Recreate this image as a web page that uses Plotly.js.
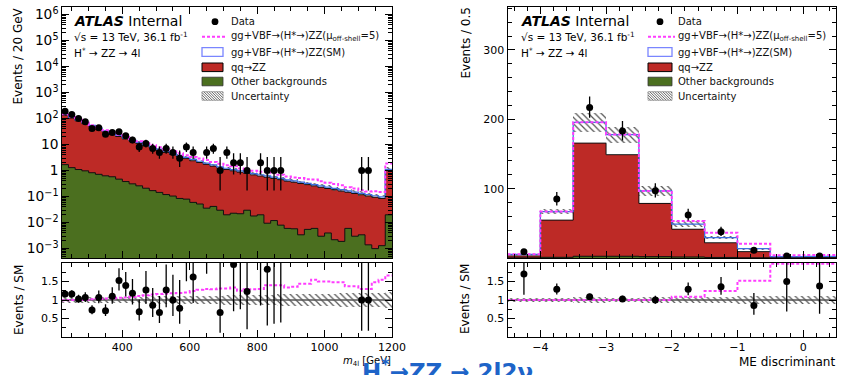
<!DOCTYPE html>
<html><head><meta charset="utf-8">
<script src="https://cdn.plot.ly/plotly-3.0.1.min.js"></script>
<style>html,body{margin:0;padding:0;background:#fff;}#chart{width:841px;height:375px;}</style>
</head><body><div id="chart"></div>
<script>
// ================= DATA =================
// Left panel: m4l distribution, 20 GeV bins from 220 to 1200 GeV
const m4lStart = 220, m4lWidth = 20;
const m4lData = [190,145,100,75,42,44,25,29,31,22,
  15,8,11,7,5,7,5,3,8,5,
  0,5,7,1,5,2,2,1,0,2,
  1,1,1,0,0,0,0,0,0,0,
  0,0,0,0,1,1,0,0,0];
const m4lDataRatio = [1.16,1.16,1.03,1.07,0.73,1.07,0.71,1.10,1.53,1.39,
  1.18,0.68,1.27,0.86,0.66,1.27,1.00,0.78,2.30,1.62,
  null,3.00,3.50,0.66,3.80,1.96,2.10,1.23,null,2.40,
  1.83,2.10,2.30,null,null,null,null,null,null,null,
  null,null,null,null,1.00,1.00,null,null,null];
const m4lOther = [1.7,1.3,1.1,0.98,0.83,0.72,0.63,0.58,0.47,0.38,
  0.31,0.26,0.21,0.17,0.145,0.12,0.105,0.085,0.08,0.06,
  0.052,0.036,0.042,0.03,0.02,0.023,0.022,0.03,0.018,0.02,
  0.0095,0.012,0.008,0.006,0.0058,0.0034,0.0055,0.006,0.003,0.004,
  0.0022,0.0019,0.006,0.003,0.0034,0.0014,0.001,0.0013,0.02];
const m4lQQZZ = [133,104,81,63,49.2,38.3,30.4,24.4,20.0,16.1,
  13.2,10.7,8.8,7.2,5.95,4.88,4.1,3.42,2.82,2.34,
  2.0,1.71,1.44,1.22,1.08,0.96,0.85,0.75,0.67,0.60,
  0.55,0.49,0.44,0.39,0.354,0.317,0.284,0.254,0.227,0.201,
  0.183,0.163,0.142,0.129,0.115,0.105,0.094,0.084,0.98];
const m4lGGSM = [12,9.5,7.5,6,4.8,3.8,3.1,2.5,2.1,1.7,
  1.4,1.15,0.95,0.8,0.66,0.55,0.47,0.39,0.33,0.28,
  0.24,0.205,0.175,0.15,0.13,0.115,0.102,0.09,0.08,0.072,
  0.065,0.058,0.052,0.047,0.042,0.038,0.034,0.031,0.028,0.025,
  0.023,0.021,0.019,0.017,0.016,0.014,0.013,0.012,0.12];
const m4lMu5Ratio = [0.99,1.0,1.0,1.01,1.02,1.03,1.04,1.05,1.06,1.07,
  1.09,1.11,1.13,1.15,1.16,1.17,1.18,1.19,1.20,1.24,
  1.28,1.30,1.29,1.31,1.31,1.34,1.25,1.29,1.29,1.30,
  1.40,1.40,1.40,1.34,1.36,1.44,1.44,1.55,1.50,1.50,
  1.48,1.48,1.37,1.37,1.30,1.30,1.48,1.55,1.66];
const m4lUnc = [0.07,0.07,0.07,0.07,0.075,0.075,0.08,0.08,0.08,0.085,
  0.09,0.09,0.09,0.095,0.10,0.10,0.10,0.105,0.11,0.11,
  0.11,0.115,0.12,0.12,0.125,0.13,0.13,0.13,0.135,0.14,
  0.14,0.145,0.15,0.15,0.155,0.16,0.16,0.165,0.17,0.17,
  0.175,0.18,0.18,0.185,0.19,0.19,0.195,0.20,0.21];
const m4lTicks = [400,600,800,1000,1200];

// Right panel: ME discriminant, 0.5 bins from -4.5 to 0.5
const meStart = -4.5, meWidth = 0.5;
const meData = [9,85,217,183,97,62,38,11,3,3];
const meDataRatio = [1.70,1.29,1.09,1.03,1.00,1.29,1.36,0.85,1.50,1.38];
const meOther = [0.3,1,2.5,2.5,2,1.5,0.8,0.4,0.1,0.1];
const meQQZZ = [2.7,53.6,163.2,146.5,76.7,40,21.2,8.8,0.9,0.9];
const meGGSM = [2.3,12.4,30,29,18,7.3,7.4,4.3,1.0,1.2];
const meMu5Ratio = [1,1,1,1,1,1.09,1.24,1.52,1.98,1.98];
const meUnc = [0.06,0.06,0.07,0.065,0.07,0.08,0.09,0.10,0.11,0.12];
const meTicks = [-4,-3,-2,-1,0];
const meYTicks = [100,200,300];
const ratioTicks = [0.5,1,1.5];

const legendLabels = ['Data','gg+VBF→(H*→)ZZ(μ<sub>off-shell</sub>=5)','gg+VBF→(H*→)ZZ(SM)','qq→ZZ','Other backgrounds','Uncertainty'];

// ================= STYLE / HELPERS =================
const W = 841, H = 375;
const FONT = 'DejaVu Sans, Liberation Sans, Arial, sans-serif';
const RED = '#bd2a26', GREEN = '#4b6f1f', MAG = '#ff3cff', BLUE = '#3d6fe0', HATCH = '#555555';
const X = v => v / W, Y = v => 1 - v / H;

function edges(start, w, n){ const e = []; for(let i = 0; i <= n; i++) e.push(start + i*w); return e; }
function centers(start, w, n){ const c = []; for(let i = 0; i < n; i++) c.push(start + (i+0.5)*w); return c; }
function step(v){ return v.concat([v[v.length-1]]); }
function add(a, b){ return a.map((v,i) => v + b[i]); }
// Gehrels approximation of 68% Poisson interval
function pUp(n){ return n > 0 ? Math.sqrt(n + 0.75) + 1 : 0; }
function pDn(n){ if(n <= 0) return 0; return n - n*Math.pow(1 - 1/(9*n) - 1/(3*Math.sqrt(n)), 3); }

function panelTraces(start, w, other, qq, gg, mu5r, unc, data, dataRatio, xa, ya, xr, yr){
  const n = other.length;
  const c = centers(start, w, n), e = edges(start, w, n);
  const redTop = add(other, qq);
  const smTot = add(redTop, gg);
  const mu5 = smTot.map((v,i) => v*mu5r[i]);
  const pat = {shape:'\\', fgcolor:HATCH, bgcolor:'rgba(0,0,0,0)', size:4.5, solidity:0.28, fillmode:'replace'};
  const T = [];
  T.push({type:'bar', x:c, y:smTot, width:w, xaxis:xa, yaxis:ya, marker:{color:'#ffffff', line:{width:0}}, hoverinfo:'skip'});
  T.push({type:'bar', x:c, y:redTop, width:w, xaxis:xa, yaxis:ya, marker:{color:RED, line:{width:0}}, hoverinfo:'skip'});
  T.push({type:'bar', x:c, y:other, width:w, xaxis:xa, yaxis:ya, marker:{color:GREEN, line:{width:0}}, hoverinfo:'skip'});
  T.push({type:'bar', x:c, base:smTot.map((v,i)=>v*(1-unc[i])), y:smTot.map((v,i)=>2*v*unc[i]), width:w, xaxis:xa, yaxis:ya,
          marker:{color:'rgba(0,0,0,0)', pattern:pat, line:{width:0}}, hoverinfo:'skip'});
  T.push({type:'scatter', mode:'lines', x:e, y:step(other), line:{shape:'hv', color:'#111', width:1}, xaxis:xa, yaxis:ya, hoverinfo:'skip'});
  T.push({type:'scatter', mode:'lines', x:e, y:step(redTop), line:{shape:'hv', color:'#111', width:1}, xaxis:xa, yaxis:ya, hoverinfo:'skip'});
  T.push({type:'scatter', mode:'lines', x:e, y:step(smTot), line:{shape:'hv', color:BLUE, width:1.2}, xaxis:xa, yaxis:ya, hoverinfo:'skip'});
  T.push({type:'scatter', mode:'lines', x:e, y:step(mu5), line:{shape:'hv', color:MAG, width:2, dash:'3px,2px'}, xaxis:xa, yaxis:ya, hoverinfo:'skip'});
  T.push({type:'scatter', mode:'markers', x:c, y:data.map(v => v > 0 ? v : null),
          marker:{color:'#000', size:7},
          error_y:{type:'data', symmetric:false, array:data.map(pUp), arrayminus:data.map(pDn), color:'#000', thickness:1.3, width:0},
          xaxis:xa, yaxis:ya, hoverinfo:'skip'});
  // ratio panel
  T.push({type:'bar', x:c, base:unc.map(u=>1-u), y:unc.map(u=>2*u), width:w, xaxis:xr, yaxis:yr,
          marker:{color:'rgba(0,0,0,0)', pattern:pat, line:{width:0}}, hoverinfo:'skip'});
  T.push({type:'scatter', mode:'lines', x:e, y:step(mu5r), line:{shape:'hv', color:MAG, width:2, dash:'3px,2px'}, xaxis:xr, yaxis:yr, hoverinfo:'skip'});
  T.push({type:'scatter', mode:'markers', x:c, y:dataRatio,
          marker:{color:'#000', size:7},
          error_y:{type:'data', symmetric:false,
            array:dataRatio.map((r,i) => r==null ? 0 : r*pUp(data[i])/data[i]),
            arrayminus:dataRatio.map((r,i) => r==null ? 0 : r*pDn(data[i])/data[i]),
            color:'#000', thickness:1.3, width:0},
          xaxis:xr, yaxis:yr, hoverinfo:'skip'});
  return T;
}

const traces = [].concat(
  panelTraces(m4lStart, m4lWidth, m4lOther, m4lQQZZ, m4lGGSM, m4lMu5Ratio, m4lUnc, m4lData, m4lDataRatio, 'x','y','x2','y2'),
  panelTraces(meStart, meWidth, meOther, meQQZZ, meGGSM, meMu5Ratio, meUnc, meData, meDataRatio, 'x3','y3','x4','y4')
);

// ================= LAYOUT =================
const tickF = {family:FONT, size:11, color:'#000'};
const base = {showline:true, linecolor:'#000', linewidth:1, mirror:'allticks', ticks:'inside', ticklen:7, tickwidth:1,
  tickcolor:'#000', showgrid:false, zeroline:false, tickfont:tickF, fixedrange:true};
const dL = [X(61.7), X(392)], dR = [X(507.5), X(836)];
const dMain = [Y(258), Y(7)], dRat = [Y(337), Y(263)];
const ratioY = (anchor) => Object.assign({}, base, {domain:dRat, anchor:anchor, range:[0,2], tickmode:'array', tickvals:ratioTicks,
  minor:{tickmode:'array', tickvals:[0.25,0.75,1.25,1.75], ticks:'inside', ticklen:4}});

const layout = {
  width:W, height:H, margin:{l:0,r:0,t:0,b:0}, paper_bgcolor:'#fff', plot_bgcolor:'#fff',
  showlegend:false, barmode:'overlay', bargap:0,
  font:{family:FONT, color:'#000'},
  xaxis: Object.assign({}, base, {domain:dL, anchor:'y', range:[220,1200], tickmode:'array', tickvals:m4lTicks, showticklabels:false,
    minor:{dtick:50, tick0:0, ticks:'inside', ticklen:4}}),
  yaxis: Object.assign({}, base, {domain:dMain, anchor:'x', type:'log', range:[-3.36,6.29], dtick:1, exponentformat:'power',
    minor:{dtick:'D1', ticks:'inside', ticklen:4}}),
  xaxis2: Object.assign({}, base, {domain:dL, anchor:'y2', range:[220,1200], tickmode:'array', tickvals:m4lTicks,
    minor:{dtick:50, tick0:0, ticks:'inside', ticklen:4}}),
  yaxis2: ratioY('x2'),
  xaxis3: Object.assign({}, base, {domain:dR, anchor:'y3', range:[-4.5,0.5], tickmode:'array', tickvals:meTicks, showticklabels:false,
    minor:{dtick:0.2, tick0:0, ticks:'inside', ticklen:4}}),
  yaxis3: Object.assign({}, base, {domain:dMain, anchor:'x3', range:[0,362], tickmode:'array', tickvals:meYTicks,
    minor:{dtick:20, tick0:0, ticks:'inside', ticklen:4}}),
  xaxis4: Object.assign({}, base, {domain:dR, anchor:'y4', range:[-4.5,0.5], tickmode:'array', tickvals:meTicks,
    minor:{dtick:0.2, tick0:0, ticks:'inside', ticklen:4}}),
  yaxis4: ratioY('x4'),
  shapes:[], annotations:[]
};

// reference lines at ratio = 1
['x2','x4'].forEach((xa,k) => layout.shapes.push({type:'line', layer:'below', xref:xa+' domain', yref:(k?'y4':'y2'), x0:0, x1:1, y0:1, y1:1, line:{color:'#000', width:1}}));

function ann(x, y, text, opt){ layout.annotations.push(Object.assign({xref:'paper', yref:'paper', x:X(x), y:Y(y), text:text, showarrow:false,
  xanchor:'left', yanchor:'middle', font:{family:FONT, size:10, color:'#000'}}, opt||{})); }

function legendBlock(sw0, sw1, dotX, textX){
  const ys = [21.7, 36.8, 52, 67.3, 81.5, 96], hh = 4.3;
  const S = layout.shapes;
  S.push({type:'circle', xref:'paper', yref:'paper', x0:X(dotX-3.4), x1:X(dotX+3.4), y0:Y(ys[0]+3.4), y1:Y(ys[0]-3.4), fillcolor:'#000', line:{width:0}});
  S.push({type:'line', xref:'paper', yref:'paper', x0:X(sw0), x1:X(sw1+3), y0:Y(ys[1]), y1:Y(ys[1]), line:{color:MAG, width:2, dash:'3px,2px'}});
  const rect = (i, fill, lc, lw) => ({type:'rect', xref:'paper', yref:'paper', x0:X(sw0), x1:X(sw1), y0:Y(ys[i]+hh), y1:Y(ys[i]-hh), fillcolor:fill, line:{color:lc, width:lw}});
  S.push(rect(2,'#fff','#7a86ff',1.3), rect(3,RED,'#000',1), rect(4,GREEN,'#333',0.8), rect(5,'#fff','#999',0.8));
  const top = ys[5]-hh, h = 2*hh; let p = '';
  for(let x = sw0 - h; x < sw1; x += 2.6){
    const s0 = Math.max(0, sw0 - x), s1 = Math.min(h, sw1 - x);
    if(s1 <= s0) continue;
    p += 'M' + X(x+s0) + ',' + Y(top+s0) + 'L' + X(x+s1) + ',' + Y(top+s1);
  }
  S.push({type:'path', xref:'paper', yref:'paper', path:p, line:{color:'#555', width:0.9}});
  legendLabels.forEach((t,i) => ann(textX, ys[i], t, {font:{family:FONT, size:10, color:'#111'}}));
}
legendBlock(202, 223, 215, 229);
legendBlock(648, 672, 660, 676);

// ATLAS labels
[72, 519].forEach(x0 => {
  ann(x0, 21, '<b><i>ATLAS</i></b> Internal', {font:{family:FONT, size:14, color:'#000'}});
  ann(x0, 36.5, '√s = 13 TeV, 36.1 fb<sup>-1</sup>', {font:{family:FONT, size:10.5, color:'#000'}});
  ann(x0, 52, 'H<sup>*</sup> → ZZ → 4l', {font:{family:FONT, size:10.5, color:'#000'}});
});

// axis titles
const titF = {family:FONT, size:12, color:'#000'};
ann(17, 6, 'Events / 20 GeV', {textangle:-90, xanchor:'center', yanchor:'top', font:titF});
ann(19, 300, 'Events / SM', {textangle:-90, xanchor:'center', yanchor:'middle', font:titF});
ann(465, 6, 'Events / 0.5', {textangle:-90, xanchor:'center', yanchor:'top', font:titF});
ann(465, 299, 'Events / SM', {textangle:-90, xanchor:'center', yanchor:'middle', font:titF});
ann(393, 361, '<i>m</i><sub>4l</sub> [GeV]', {xanchor:'right', font:{family:FONT, size:10, color:'#000'}});
ann(837, 362, 'ME discriminant', {xanchor:'right', font:{family:FONT, size:12, color:'#000'}});

// slide caption cut off at the bottom
ann(360, 353, '<b>H<sup>*</sup>→ZZ → 2l2ν</b>', {yanchor:'top', font:{family:FONT, size:23, color:'#1e64c8'}});

Plotly.newPlot('chart', traces, layout, {staticPlot:true, displayModeBar:false});
</script>
</body></html>
